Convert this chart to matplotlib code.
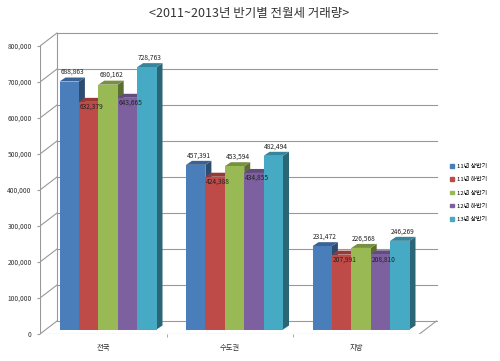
import numpy as np
import matplotlib.pyplot as plt
from matplotlib.patches import Polygon, Patch

plt.rcParams['font.family'] = ['Noto Sans CJK KR', 'DejaVu Sans']

title = '<2011~2013년 반기별 전월세 거래량>'
regions = ['전국', '수도권', '지방']
periods = ['11년 상반기', '11년 하반기', '12년 상반기', '12년 하반기', '13년 상반기']
values = [
    [688863, 457391, 231472],  # 11년 상반기
    [632379, 424388, 207991],  # 11년 하반기
    [680162, 453594, 226568],  # 12년 상반기
    [643665, 434855, 208810],  # 12년 하반기
    [728763, 482494, 246269],  # 13년 상반기
]
yticks = np.arange(0, 800001, 100000)

front = ['#4a7ebb', '#be4b48', '#98b954', '#7d60a0', '#46aac5']

def shade(c, f):
    c = np.array([int(c[i:i + 2], 16) for i in (1, 3, 5)]) / 255
    return tuple(c * f)

fig = plt.figure(figsize=(5, 3.61), dpi=100)
# pixel layout: x 40..440, y(bottom) 27..337
ax = fig.add_axes([40 / 500, 27 / 361, 400 / 500, 310 / 361])
px_x = 126.5          # px per category
px_y = 36 / 100000    # px per value unit
ax.set_xlim(-0.5, -0.5 + 400 / px_x)
ax.set_ylim(0, 310 / px_y)
for s in ax.spines.values():
    s.set_visible(False)

# depth offsets (data units)
dxw, dyw = 17 / px_x, 13 / px_y     # wall depth
ox, oy = 4.75 / px_x, 4.5 / px_y     # bar position in depth
dxb, dyb = 6 / px_x, 4 / px_y        # bar depth
w = 19.4 / px_x

grid = '#999999'
# back wall gridlines + left wall
for v in yticks:
    ax.plot([-0.5 + dxw, 2.5 + dxw], [v + dyw, v + dyw], color=grid, lw=0.8, zorder=1)
    ax.plot([-0.5, -0.5 + dxw], [v, v + dyw], color=grid, lw=0.8, zorder=1)
ax.plot([-0.5, -0.5], [0, yticks[-1]], color=grid, lw=0.8, zorder=1)
ax.plot([-0.5 + dxw, -0.5 + dxw], [dyw, yticks[-1] + dyw], color=grid, lw=0.8, zorder=1)
# floor
ax.plot([-0.5, 2.5], [0, 0], color=grid, lw=0.8, zorder=1)
ax.plot([2.5, 2.5 + dxw], [0, dyw], color=grid, lw=0.8, zorder=1)

x = np.arange(len(regions))
z = 2
for i, (name, vals) in enumerate(zip(periods, values)):
    xs = x - 2 * w + i * w + ox
    for xc, v in zip(xs, vals):
        l, r = xc - w / 2, xc + w / 2
        side = Polygon([(r, oy), (r + dxb, oy + dyb), (r + dxb, oy + v + dyb), (r, oy + v)],
                       closed=True, fc=shade(front[i], 0.6), ec='none', zorder=z)
        top = Polygon([(l, oy + v), (r, oy + v), (r + dxb, oy + v + dyb), (l + dxb, oy + v + dyb)],
                      closed=True, fc=shade(front[i], 0.78), ec='none', zorder=z)
        ax.add_patch(side)
        ax.add_patch(top)
        ax.bar(xc, v, width=w, bottom=oy, color=front[i], zorder=z + 0.5)
        if i in (1, 3):
            ax.text(xc + dxb / 2, oy + v - 1 / px_y, f'{v:,}', ha='center', va='top',
                    fontsize=4.8, color='#222222', zorder=50)
        else:
            ax.text(xc + dxb / 2, oy + v + dyb + 1.5 / px_y, f'{v:,}', ha='center', va='bottom',
                    fontsize=4.8, color='#222222', zorder=50)
        z += 1

ax.set_yticks(yticks)
ax.set_yticklabels([f'{v:,}' for v in yticks], fontsize=4.8, color='#333333')
ax.tick_params(axis='y', length=2, color=grid, pad=4)
ax.set_xticks(x)
ax.set_xticklabels(regions, fontsize=5.3, color='#333333')
ax.set_xticks([0.5, 1.5], minor=True)
ax.tick_params(axis='x', which='major', length=0, pad=7)
ax.tick_params(axis='x', which='minor', length=2, color=grid)

fig.text(249 / 500, 1 - 14 / 361, title, ha='center', va='center', fontsize=9, color='#333333')

handles = [Patch(color=c) for c in front]
fig.legend(handles, periods, loc='upper left', bbox_to_anchor=(448 / 500, 1 - 162 / 361),
           frameon=False, fontsize=4.3, handlelength=0.6, handleheight=0.6,
           handletextpad=0.5, labelspacing=1.35, borderaxespad=0)

fig.savefig('out.png', dpi=100)
